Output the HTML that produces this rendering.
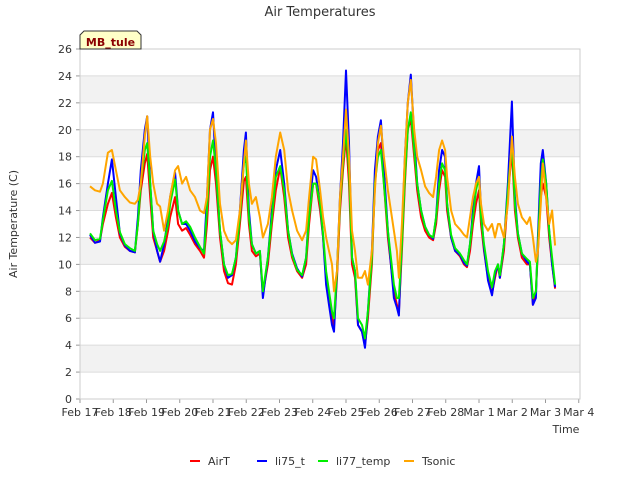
<!DOCTYPE html>
<html><head><meta charset="utf-8"><style>
body{margin:0;background:#fff;font-family:"Liberation Sans","DejaVu Sans",sans-serif;}
svg text{font-family:"DejaVu Sans","Liberation Sans",sans-serif;}
</style></head><body>
<svg id="chart" width="640" height="480" viewBox="0 0 640 480"></svg>
<script>
const times=[.30,.45,.60,.69,.84,.96,1.08,1.20,1.35,1.50,1.65,1.74,1.83,1.95,2.02,2.11,2.20,2.32,2.41,2.53,2.65,2.71,2.86,2.95,3.07,3.19,3.31,3.46,3.61,3.73,3.82,3.91,4.00,4.09,4.21,4.33,4.45,4.57,4.69,4.81,4.93,4.99,5.08,5.17,5.29,5.41,5.50,5.65,5.77,5.89,6.02,6.14,6.26,6.38,6.53,6.68,6.80,6.89,7.01,7.10,7.22,7.31,7.40,7.49,7.58,7.64,7.73,7.82,7.91,8.00,8.09,8.18,8.27,8.36,8.48,8.57,8.66,8.78,8.87,8.96,9.05,9.14,9.26,9.35,9.44,9.53,9.59,9.68,9.77,9.86,9.95,10.05,10.14,10.26,10.38,10.50,10.62,10.71,10.80,10.89,10.98,11.04,11.16,11.28,11.43,11.55,11.64,11.73,11.82,11.91,12.00,12.06,12.15,12.27,12.39,12.48,12.57,12.63,12.75,12.87,12.99,13.08,13.17,13.29,13.44,13.53,13.62,13.71,13.77,13.86,13.92,14.02,14.11,14.20,14.29];
const airT=[12.0,11.6,11.8,13,14.5,15.3,13.5,12,11.3,11.0,10.9,13,15.5,17.5,18.2,15,12,11,10.2,11,12.5,13.5,15,13,12.5,12.7,12.2,11.5,11,10.5,13,17,18,16,12,9.5,8.6,8.5,10,13,16.2,16.5,13,11,10.6,10.8,7.8,10,13,15.5,17.2,15,12,10.5,9.5,9.0,10,13,16,16,14,12,9,7.5,6.0,5.4,9,14,17,19.5,16,10,9,5.5,5.0,4.0,6,10,16,18.5,19,16,12,10,8,7,6.5,11,16,20,20.8,18,15.5,13.5,12.5,12,11.8,13,15.5,17,16.5,14,12,11,10.6,10.0,9.8,11,13,14.5,15.5,13,11,9,7.8,9,10,9,11,15,18.5,14,12,10.5,10.0,10,7,8,11,15,16,15,12,10,8.2];
const li75=[12.2,11.6,11.7,13.5,16,17.8,15,12.3,11.4,11,10.9,13.5,17,20,21,16,12.5,11,10.2,11.5,13.5,15,16.8,14,13,13,12.5,11.7,11.2,11,15,20,21.3,17,12.5,10,9,9.2,10.5,14,18.5,19.8,14,11.5,10.8,11,7.5,10.5,14,17,18.5,16,12.5,10.8,9.7,9.1,10.5,14,17,16.5,14.5,12,8.5,7,5.5,5.0,9.5,15,19,24.4,19,10.5,9.5,5.5,5.0,3.8,6.5,11,17,19.5,20.7,17,12.5,10,7.5,6.8,6.2,12,18,22,24.1,19.5,16,14,12.8,12.2,11.9,13.5,17,18.5,18,14.5,12,11,10.7,10.1,9.9,11.5,14,16,17.3,14,11.2,8.8,7.7,9.3,10,9,11.5,16,22.1,15,12.3,10.8,10.2,10,7,7.5,12,17.5,18.5,16,12.5,10,8.3];
const li77=[12.3,11.8,11.9,13.3,15.5,16.2,14,12.4,11.5,11.2,11,13,16,18.5,19,16,12.5,11.5,11,11.7,13,14.5,16.3,14,13,13.2,12.8,12,11.3,10.8,14,18,19.2,17,12.5,10,9.2,9.3,10.5,13.5,17.5,18,13.5,11.5,10.8,11,8,10.5,13.5,16.5,17.3,15.5,12.5,10.7,9.6,9.2,10.5,13.5,16,16,14.5,12.2,9.5,8,6.5,6.0,9.5,14.5,17.5,20,17,10.5,9.5,6,5.5,4.5,6.5,10.5,16,18,18.5,16,12.5,10.5,8.5,7.5,7.5,11.5,16.5,20,21.3,18.5,16,14,12.8,12.2,12,13.5,16,17.5,17,14.5,12.2,11.2,10.8,10.3,10,11.5,13.5,15.5,16.5,13.5,11.5,9.5,8.3,9.5,10,9.2,11.5,15.5,19,14.5,12.3,10.8,10.4,10.2,7.5,8,11.5,16,17.8,16,12.5,10.5,8.5];
const tsonic=[15.8,15.5,15.4,16,18.3,18.5,17,15.5,15,14.6,14.5,14.8,16,19.5,21,18,16,14.5,14.3,12.5,14,15,17,17.3,16,16.5,15.5,15,14,13.8,15,20,20.8,19,14.5,12.5,11.8,11.5,11.8,14,17.5,19.2,16,14.5,15,13.5,12,13,15,18,19.8,18.5,15.5,14,12.5,11.8,12.5,15,18,17.8,15.5,13.5,12,11,10,8,9.5,15,18,21.5,18,12.5,11,9,9,9.5,8.5,11,15.5,19,20.3,18,15.5,14,12.5,11,9,13,18,22,23.7,20,18,17,15.8,15.3,15,16.5,18.5,19.2,18.5,16.5,14,13,12.6,12.2,12,13.5,15,16,16.5,14.5,13,12.5,13,12,13,13,12,14.5,19.5,16.5,14.5,13.5,13,13.5,12,10.2,11,14.5,17.5,15,13,14,11.4];
const xTickLabels=["Feb 17","Feb 18","Feb 19","Feb 20","Feb 21","Feb 22","Feb 23","Feb 24","Feb 25","Feb 26","Feb 27","Feb 28","Mar 1","Mar 2","Mar 3","Mar 4"];
const yTicks=[0,2,4,6,8,10,12,14,16,18,20,22,24,26];

const NS="http://www.w3.org/2000/svg";
const svg=document.getElementById('chart');
const L=80,R=580,T=49,B=399;
const xS=d=>L+d*33.25;
const yS=v=>B-(v/26)*(B-T);
function el(tag,attrs,parent){const e=document.createElementNS(NS,tag);for(const k in attrs)e.setAttribute(k,attrs[k]);(parent||svg).appendChild(e);return e;}

// background + bands
const bg=el('rect',{x:L,y:T,width:R-L,height:B-T,fill:'#fff'});


for(let v=2;v<26;v+=4){
  const b=el('rect',{x:L,y:yS(v+2),width:R-L,height:yS(v)-yS(v+2),fill:'#f2f2f2'});
  
  
}
yTicks.forEach(v=>{
  const g=el('line',{x1:L,x2:R,y1:yS(v),y2:yS(v),stroke:'#dcdcdc','stroke-width':1});
  
  
  const tk=el('line',{x1:L-4,x2:L,y1:yS(v),y2:yS(v),stroke:'#999'});
  
  
  const t=el('text',{x:L-8,y:yS(v)+4,'text-anchor':'end','font-size':11,fill:'#333'});
  t.textContent=v;
  
  
});
xTickLabels.forEach((s,i)=>{
  const tk=el('line',{x1:xS(i),x2:xS(i),y1:B,y2:B+4,stroke:'#999'});
  
  
  const t=el('text',{x:xS(i),y:B+17,'text-anchor':'middle','font-size':11,fill:'#333'});
  t.textContent=s;
  
  
});
const frame=el('rect',{x:L,y:T,width:R-L,height:B-T,fill:'none',stroke:'#ccc'});



const series=[['airt',airT,'#ff0000'],['li75-t',li75,'#0000ff'],['li77-temp',li77,'#00ee00'],['tsonic',tsonic,'#ffa500']];
series.forEach(([n,vals,c])=>{
  const d=vals.map((v,i)=>(i?'L':'M')+xS(times[i]).toFixed(1)+','+yS(v).toFixed(1)).join('');
  const p=el('path',{d:d,fill:'none',stroke:c,'stroke-width':2,'stroke-linejoin':'round'});
  
  
});

const title=el('text',{x:320,y:16,'text-anchor':'middle','font-size':13,fill:'#333'});
title.textContent='Air Temperatures';


const yl=el('text',{x:0,y:0,transform:'translate(17,224) rotate(-90)','text-anchor':'middle','font-size':11,fill:'#333'});
yl.textContent='Air Temperature (C)';


const xl=el('text',{x:566,y:433,'text-anchor':'middle','font-size':11,fill:'#333'});
xl.textContent='Time';



const badge=el('path',{d:'M80,49 L80,35 L84,31 L137,31 L141,35 L141,49 Z',fill:'#ffffc8',stroke:'#333','stroke-width':1});


const bt=el('text',{x:110.5,y:46,'text-anchor':'middle','font-size':11,'font-weight':'bold',fill:'#8b0000'});
bt.textContent='MB_tule';



const legend=[['AirT','#ff0000',190],['li75_t','#0000ff',257],['li77_temp','#00ee00',318],['Tsonic','#ffa500',404]];
legend.forEach(([s,c,x])=>{
  const g=el('g',{});
  
  
  el('line',{x1:x,x2:x+10,y1:461,y2:461,stroke:c,'stroke-width':2},g);
  const t=el('text',{x:x+18,y:465,'font-size':11,fill:'#333'},g);
  t.textContent=s;
});
</script>
</body></html>
